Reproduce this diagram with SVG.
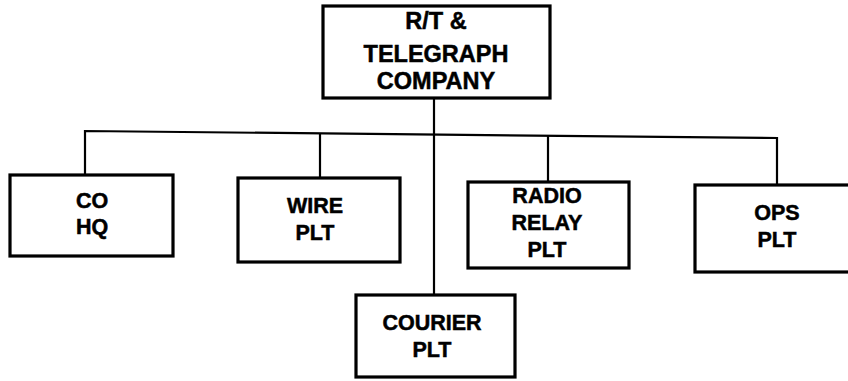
<svg xmlns="http://www.w3.org/2000/svg" width="848" height="381" viewBox="0 0 848 381">
<style>
.box{fill:#fff;stroke:#000;stroke-width:3.2}
.c{fill:none;stroke:#000;stroke-width:2.2}
text{font-family:"Liberation Sans",Arial,sans-serif;font-weight:bold;font-size:21.5px;text-anchor:middle;fill:#000;stroke:#000;stroke-width:0.5}
.big{font-size:23.5px}
</style>
<rect width="848" height="381" fill="#fff"/>
<g id="connectors">
<path class="c" d="M85,175 V131 L777,138 V185"/>
<path class="c" d="M320,178 V133.3"/>
<path class="c" d="M548,182 V135.6"/>
<path class="c" d="M434,98 V295"/>
</g>
<g id="rt-telegraph">
<rect class="box" x="323" y="6" width="227" height="92"/>
<text class="big" x="436" y="29">R/T &amp;</text>
<text class="big" x="436" y="62">TELEGRAPH</text>
<text class="big" x="436" y="89">COMPANY</text>
</g>
<g id="co-hq">
<rect class="box" x="10" y="175" width="163" height="81"/>
<text x="92" y="208">CO</text>
<text x="92" y="234">HQ</text>
</g>
<g id="wire-plt">
<rect class="box" x="238" y="178" width="162" height="84"/>
<text x="315" y="213">WIRE</text>
<text x="315" y="240">PLT</text>
</g>
<g id="radio-relay-plt">
<rect class="box" x="468" y="182" width="161" height="86"/>
<text x="547" y="203">RADIO</text>
<text x="547" y="230">RELAY</text>
<text x="547" y="257">PLT</text>
</g>
<g id="ops-plt">
<rect class="box" x="695" y="185" width="160" height="87"/>
<text x="777" y="220">OPS</text>
<text x="777" y="247">PLT</text>
</g>
<g id="courier-plt">
<rect class="box" x="356" y="295" width="159" height="82"/>
<text x="432" y="330">COURIER</text>
<text x="432" y="357">PLT</text>
</g>
</svg>
